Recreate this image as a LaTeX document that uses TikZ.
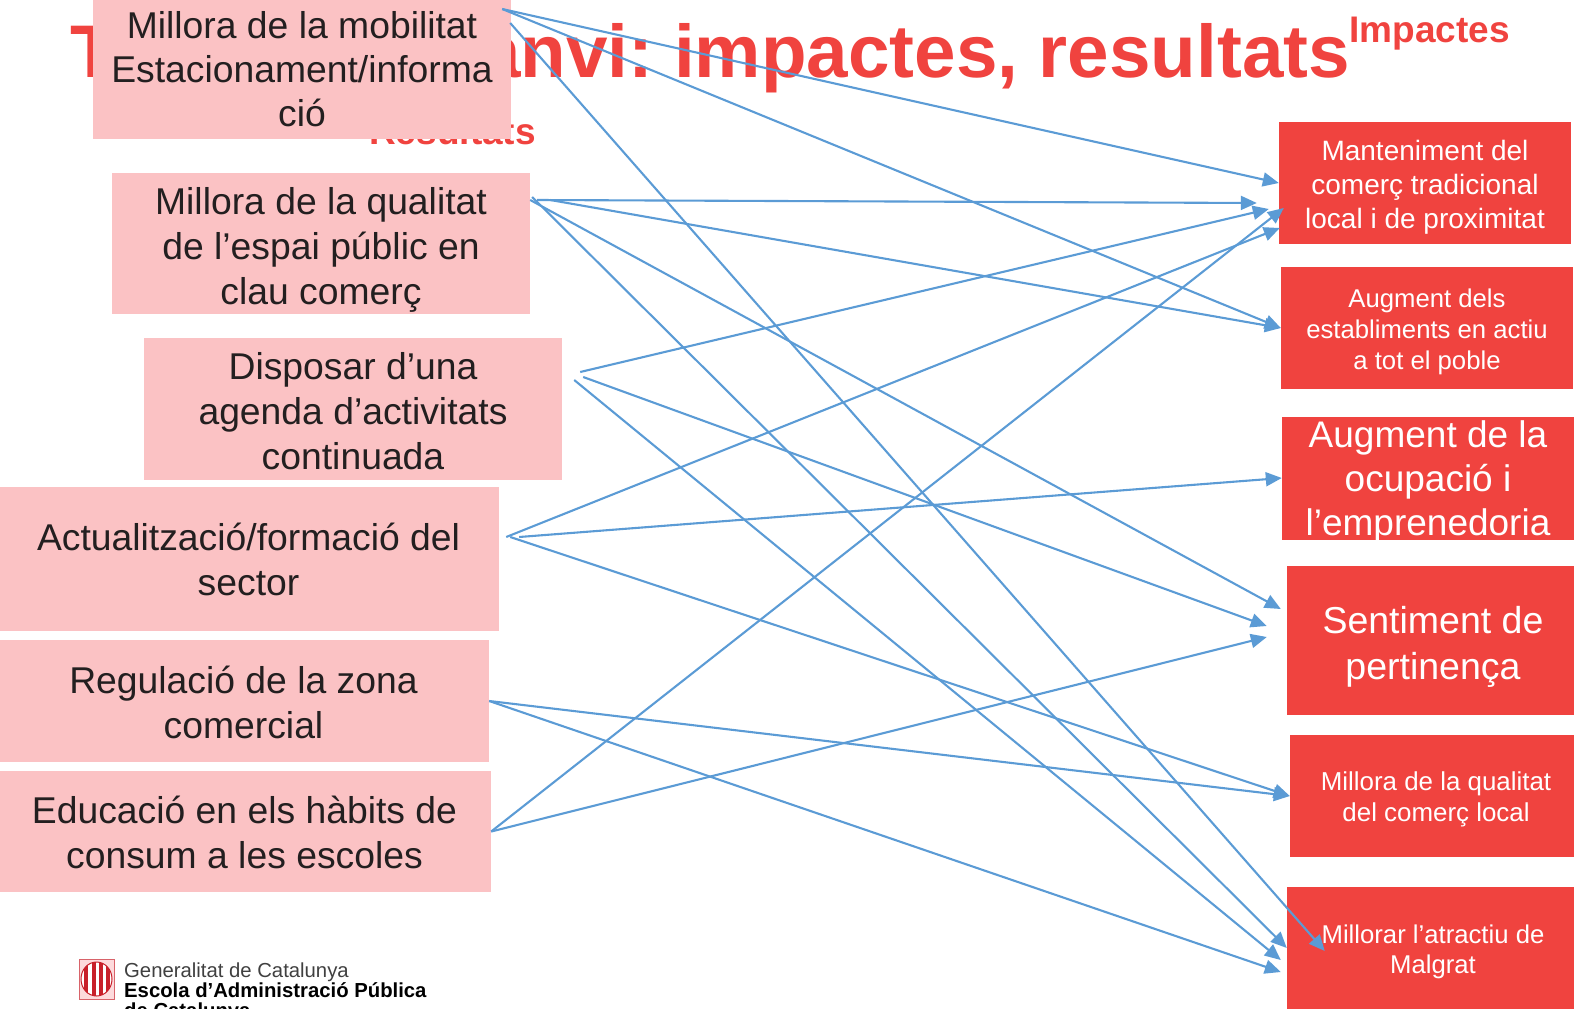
\documentclass[tikz,border=0pt]{standalone}
\usepackage{fontspec}
\setmainfont{Liberation Sans}
\usetikzlibrary{arrows.meta}
\definecolor{titlered}{RGB}{240,67,63}
\definecolor{boxpink}{RGB}{251,194,196}
\definecolor{linkblue}{RGB}{91,155,213}
\definecolor{darktext}{RGB}{35,31,32}
\definecolor{shieldred}{RGB}{200,32,42}
\newcommand{\lift}[1]{\rule{0pt}{#1pt}}
\begin{document}
\frenchspacing
\begin{tikzpicture}
[x=1pt,y=-1pt,%
 causestyle/.style={fill=boxpink,text=darktext,inner sep=0pt,align=center,font=\fontsize{37.3}{45}\selectfont},%
 effectstyle/.style={fill=titlered,text=white,inner sep=0pt,align=center},%
 titlestyle/.style={text=titlered,inner sep=0pt,font=\bfseries\fontsize{37}{40}\selectfont},%
 logostyle/.style={inner sep=0pt,anchor=base west,font=\fontsize{20.3}{22}\selectfont},%
 linkstyle/.style={line width=2.1pt,linkblue,->,>={Triangle[length=16pt,width=14pt]}}]
\useasboundingbox (0,0) rectangle (1574,1009);
%% title and column headings
\node[titlestyle,anchor=base west,font=\bfseries\fontsize{74.6}{80}\selectfont] (title) at (70,77) {Teoria del canvi: impactes, resultats};
\node[titlestyle,anchor=base west] (impactes) at (1349,42) {Impactes};
\node[titlestyle,anchor=base east] (resultats) at (536,144) {Resultats};
%% results
\node[causestyle,minimum width=418,minimum height=139,font=\fontsize{37.3}{44}\selectfont] (mobilitat) at (302,69.5) {Millora de la mobilitat\\Estacionament/informa\\ció};
\node[causestyle,minimum width=418,minimum height=141] (qualitat) at (321,243.5) {\lift{39}Millora de la qualitat\\de l’espai públic en\\clau comerç};
\node[causestyle,minimum width=418,minimum height=142] (agenda) at (353,409) {\lift{31}Disposar d’una\\agenda d’activitats\\continuada};
\node[causestyle,minimum width=501,minimum height=144] (formacio) at (248.5,559) {\lift{29}Actualització/formació del\\sector};
\node[causestyle,minimum width=491,minimum height=122] (regulacio) at (243.5,701) {\lift{31}Regulació de la zona\\comercial};
\node[causestyle,minimum width=493,minimum height=121] (educacio) at (244.5,831.5) {\lift{29}Educació en els hàbits de\\consum a les escoles};
%% impacts
\node[effectstyle,minimum width=292,minimum height=122,font=\fontsize{28}{34}\selectfont] (manteniment) at (1425,183) {\lift{29.4}Manteniment del\\comerç tradicional\\local i de proximitat};
\node[effectstyle,minimum width=292,minimum height=122,font=\fontsize{25.7}{31}\selectfont] (establiments) at (1427,328) {\lift{26.8}Augment dels\\establiments en actiu\\a tot el poble};
\begin{scope}
\clip (1282,417) rectangle (1574,539);
\node[effectstyle,minimum width=292,minimum height=132,font=\fontsize{37}{44}\selectfont] (ocupacio) at (1428,482) {Augment de la\\ocupació i\\l’emprenedoria};
\end{scope}
\node[effectstyle,minimum width=292,minimum height=149,font=\fontsize{37.5}{46}\selectfont] (pertinenca) at (1433,640.5) {\lift{39.4}Sentiment de\\pertinença};
\node[effectstyle,minimum width=292,minimum height=122,font=\fontsize{25.9}{31}\selectfont] (comerc) at (1436,796) {\lift{24.9}Millora de la qualitat\\del comerç local};
\node[effectstyle,minimum width=292,minimum height=122,font=\fontsize{25.7}{30}\selectfont] (atractiu) at (1433,948) {\lift{25.8}Millorar l’atractiu de\\Malgrat};
%% logo
\draw[shieldred!70,fill=boxpink!60] (79,959) rectangle (114,999);
\draw[shieldred,fill=white,line width=1pt] (96.5,979) ellipse (15.5 and 17);
\begin{scope}
\clip (96.5,979) ellipse (15.5 and 17);
\foreach \xpos in {86,93.5,100.7,107.7}
  \fill[shieldred] (\xpos-2,959) rectangle (\xpos+2,999);
\end{scope}
\node[logostyle,text=black!75] (generalitat) at (124,977) {Generalitat de Catalunya};
\node[logostyle,font=\bfseries\fontsize{20.3}{22}\selectfont] (escola) at (124,997) {Escola d’Administració Pública};
\node[logostyle,font=\bfseries\fontsize{20.3}{22}\selectfont] (catalunya) at (124,1017) {de Catalunya};
%% links from results to impacts
\draw[linkstyle] ([shift={(-9,-60.5)}]mobilitat.east) -- (manteniment.west);
\draw[linkstyle] ([shift={(-9,-60.5)}]mobilitat.east) -- (establiments.west);
\draw[linkstyle] ([shift={(-1,-46.5)}]mobilitat.east) -- ([shift={(38,3)}]atractiu.west);
\draw[linkstyle] ([shift={(7,-43.5)}]qualitat.east) -- ([shift={(-22,20)}]manteniment.west);
\draw[linkstyle] ([shift={(20,-43.5)}]qualitat.east) -- (establiments.west);
\draw[linkstyle] ([shift={(0,-43.5)}]qualitat.east) -- ([shift={(-6,-31.5)}]pertinenca.west);
\draw[linkstyle] ([shift={(2,-46.5)}]qualitat.east) -- (atractiu.west);
\draw[linkstyle] ([shift={(18,-37)}]agenda.east) -- ([shift={(-10,26)}]manteniment.west);
\draw[linkstyle] ([shift={(21,-32)}]agenda.east) -- ([shift={(-20,-14.5)}]pertinenca.west);
\draw[linkstyle] ([shift={(12,-29)}]agenda.east) -- ([shift={(-6,12)}]atractiu.west);
\draw[linkstyle] ([shift={(7,-22)}]formacio.east) -- ([shift={(1,45)}]manteniment.west);
\draw[linkstyle] ([shift={(20,-22)}]formacio.east) -- ([shift={(0,-4)}]ocupacio.west);
\draw[linkstyle] ([shift={(11,-22)}]formacio.east) -- (comerc.west);
\draw[linkstyle] (regulacio.east) -- (comerc.west);
\draw[linkstyle] (regulacio.east) -- ([shift={(-6,24)}]atractiu.west);
\draw[linkstyle] (educacio.east) -- ([shift={(5,25)}]manteniment.west);
\draw[linkstyle] (educacio.east) -- ([shift={(-20,-3.5)}]pertinenca.west);
\end{tikzpicture}
\end{document}
